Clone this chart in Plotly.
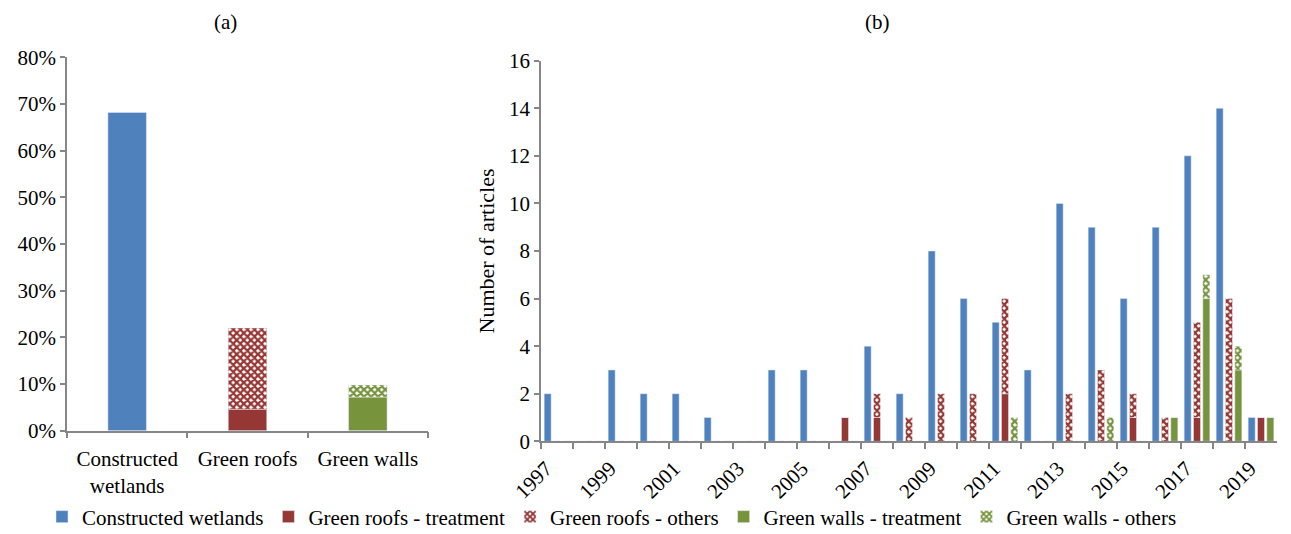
import plotly.graph_objects as go

# ---------------- data ----------------
# Panel (a): share of articles (%)
cats_a = ["Constructed<br>wetlands", "Green roofs", "Green walls"]
share_cw = [68.2]
share_gr_treat = [4.6]
share_gr_other = [17.4]
share_gw_treat = [7.2]
share_gw_other = [2.6]

# Panel (b): number of articles per year
years = [str(y) for y in range(1997, 2020)]
cw = [2, 0, 3, 2, 2, 1, 0, 3, 3, 0, 4, 2, 8, 6, 5, 3, 10, 9, 6, 9, 12, 14, 1]
gr_treat = [0, 0, 0, 0, 0, 0, 0, 0, 0, 1, 1, 0, 0, 0, 2, 0, 0, 0, 1, 0, 1, 0, 1]
gr_other = [0, 0, 0, 0, 0, 0, 0, 0, 0, 0, 1, 1, 2, 2, 4, 0, 2, 3, 1, 1, 4, 6, 0]
gw_treat = [0, 0, 0, 0, 0, 0, 0, 0, 0, 0, 0, 0, 0, 0, 0, 0, 0, 0, 0, 1, 6, 3, 1]
gw_other = [0, 0, 0, 0, 0, 0, 0, 0, 0, 0, 0, 0, 0, 0, 1, 0, 0, 1, 0, 0, 1, 1, 0]
year_labels = [y if int(y) % 2 == 1 else "" for y in years]

names = ["Constructed wetlands", "Green roofs - treatment", "Green roofs - others",
         "Green walls - treatment", "Green walls - others"]

# ---------------- style ----------------
BLUE = "#4F81BD"
RED = "#953735"
GREEN = "#77933C"
AXIS = "#868686"
FONT = "Liberation Serif, 'Times New Roman', Times, serif"
FS = 21

def checker(color):
    return dict(shape="x", size=5, solidity=0.7, fgcolor=color, bgcolor="white", fillmode="replace")

fig = go.Figure()

# ---- panel (a) ----
WA = 0.32
fig.add_trace(go.Bar(x=[cats_a[0]], y=share_cw, marker=dict(color=BLUE), width=WA,
                     offsetgroup="A", xaxis="x", yaxis="y", showlegend=False, name=names[0]))
fig.add_trace(go.Bar(x=[cats_a[1]], y=share_gr_treat, marker=dict(color=RED), width=WA,
                     offsetgroup="A", xaxis="x", yaxis="y", showlegend=False, name=names[1]))
fig.add_trace(go.Bar(x=[cats_a[1]], y=share_gr_other, base=share_gr_treat,
                     marker=dict(color="white", pattern=checker(RED)), width=WA,
                     offsetgroup="A", xaxis="x", yaxis="y", showlegend=False, name=names[2]))
fig.add_trace(go.Bar(x=[cats_a[2]], y=share_gw_treat, marker=dict(color=GREEN), width=WA,
                     offsetgroup="A", xaxis="x", yaxis="y", showlegend=False, name=names[3]))
fig.add_trace(go.Bar(x=[cats_a[2]], y=share_gw_other, base=share_gw_treat,
                     marker=dict(color="white", pattern=checker(GREEN)), width=WA,
                     offsetgroup="A", xaxis="x", yaxis="y", showlegend=False, name=names[4]))

# ---- panel (b) ----
fig.add_trace(go.Bar(x=years, y=cw, name=names[0], marker=dict(color=BLUE),
                     offsetgroup="cw", xaxis="x2", yaxis="y2"))
fig.add_trace(go.Bar(x=years, y=gr_treat, name=names[1], marker=dict(color=RED),
                     offsetgroup="gr", xaxis="x2", yaxis="y2"))
fig.add_trace(go.Bar(x=years, y=gr_other, base=gr_treat, name=names[2],
                     marker=dict(color="white", pattern=checker(RED)),
                     offsetgroup="gr", xaxis="x2", yaxis="y2"))
fig.add_trace(go.Bar(x=years, y=gw_treat, name=names[3], marker=dict(color=GREEN),
                     offsetgroup="gw", xaxis="x2", yaxis="y2"))
fig.add_trace(go.Bar(x=years, y=gw_other, base=gw_treat, name=names[4],
                     marker=dict(color="white", pattern=checker(GREEN)),
                     offsetgroup="gw", xaxis="x2", yaxis="y2"))

W, H = 1291, 534
axis_common = dict(showline=True, linecolor=AXIS, linewidth=1.5, ticks="outside",
                   tickcolor=AXIS, tickwidth=1.5, showgrid=False, zeroline=False,
                   automargin=False,
                   tickfont=dict(family=FONT, size=FS, color="black"))

fig.update_layout(
    width=W, height=H,
    margin=dict(l=0, r=0, t=0, b=0, autoexpand=False),
    paper_bgcolor="white", plot_bgcolor="white",
    font=dict(family=FONT, size=FS, color="black"),
    barmode="group", bargap=0.125, bargroupgap=0.25,
    xaxis=dict(domain=[67 / W, 428 / W], type="category", categoryorder="array",
               categoryarray=cats_a, tickson="boundaries", ticklen=6, anchor="y",
               ticklabelstandoff=8, **axis_common),
    yaxis=dict(domain=[(H - 430.7) / H, (H - 57.3) / H], range=[0, 80], dtick=10,
               ticksuffix="%", ticklen=5, anchor="x", **axis_common),
    xaxis2=dict(domain=[541 / W, 1277 / W], type="category", categoryorder="array",
                categoryarray=years, tickmode="array", tickvals=years, ticktext=year_labels,
                tickson="boundaries", ticklen=6, tickangle=-45, anchor="y2",
                ticklabelshift=-11, ticklabelstandoff=5,
                **axis_common),
    yaxis2=dict(domain=[(H - 441.3) / H, (H - 60.7) / H], range=[0, 16], dtick=2,
                ticklen=5, anchor="x2",
                title=dict(text="Number of articles", font=dict(family=FONT, size=22), standoff=8),
                **axis_common),
    legend=dict(orientation="h", x=42 / W, xanchor="left", y=(H - 517) / H, yanchor="middle",
                font=dict(family=FONT, size=FS), itemwidth=30, traceorder="normal",
                bgcolor="rgba(0,0,0,0)"),
    annotations=[
        dict(text="(a)", x=225 / W, y=(H - 22) / H, xref="paper", yref="paper",
             xanchor="center", yanchor="middle",
             showarrow=False, font=dict(family=FONT, size=FS)),
        dict(text="(b)", x=877 / W, y=(H - 22) / H, xref="paper", yref="paper",
             xanchor="center", yanchor="middle",
             showarrow=False, font=dict(family=FONT, size=FS)),
    ],
)

fig.write_html("out.html")
